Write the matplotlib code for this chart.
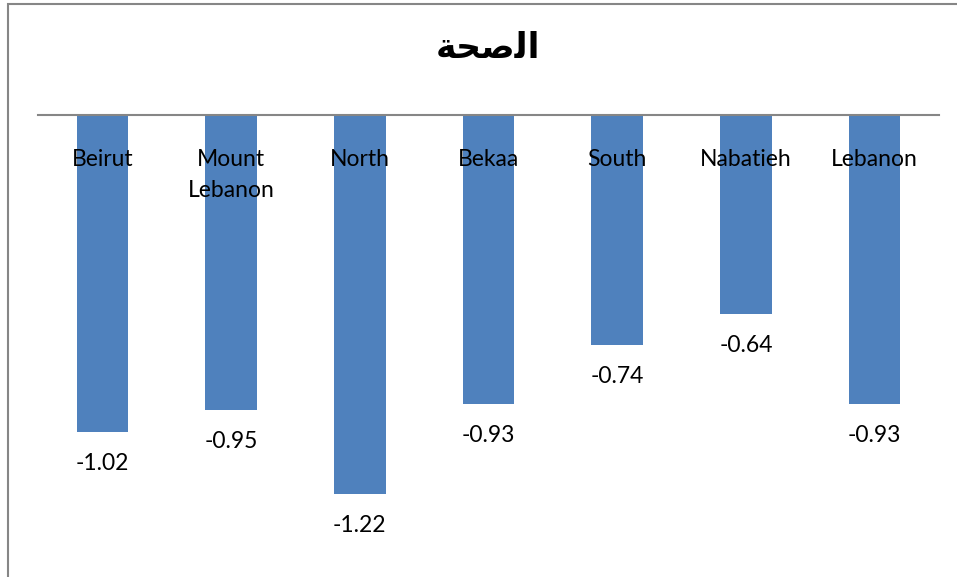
import matplotlib
matplotlib.use("Agg")
import matplotlib.pyplot as plt
from matplotlib.patches import Rectangle

categories = ["Beirut", "Mount\nLebanon", "North", "Bekaa", "South", "Nabatieh", "Lebanon"]
values = [-1.02, -0.95, -1.22, -0.93, -0.74, -0.64, -0.93]
value_labels = ["-1.02", "-0.95", "-1.22", "-0.93", "-0.74", "-0.64", "-0.93"]
# "الصحة" written with Arabic presentation forms in visual order (matplotlib has no Arabic shaping)
title = "\uFE94\uFEA4\uFEBB\uFEDF\uFE8D"

W, H = 957, 577
fig = plt.figure(figsize=(W / 100, H / 100), dpi=100)
fig.patch.set_facecolor("white")

# outer chart frame (partially cropped at right/bottom)
fig.patches.append(Rectangle((8 / W, -0.05), 1.2, 1 - 4 / H + 0.05, transform=fig.transFigure,
                             fill=False, edgecolor="#868686", linewidth=1.5))

left, right = 38 / W, 939 / W
top = 1 - 115 / H
bottom = 1 - 550 / H
ax = fig.add_axes([left, bottom, right - left, top - bottom])
ax.set_xlim(-0.5, len(categories) - 0.5)
ax.set_ylim(-1.4, 0)
x = list(range(len(categories)))
ax.bar(x, values, width=0.4, color="#4F81BD", zorder=1)
for s in ["left", "right", "bottom"]:
    ax.spines[s].set_visible(False)
ax.spines["top"].set_color("#868686")
ax.spines["top"].set_linewidth(1.5)
ax.spines["top"].set_zorder(3)
ax.set_xticks([])
ax.set_yticks([])
ax.patch.set_alpha(0)

font = "Lato"
fs = 16.5
for xi, c in zip(x, categories):
    ax.text(xi, -0.110, c, ha="center", va="top", fontsize=fs, family=font,
            linespacing=1.6, zorder=4)
for xi, v, lab in zip(x, values, value_labels):
    ax.annotate(lab, (xi, v), xytext=(0, -22.5), textcoords="offset points",
                ha="center", va="center", fontsize=fs, family=font)

fig.text(488 / W, 1 - 48 / H, title, ha="center", va="center", fontsize=25,
         fontweight="bold", family=["DejaVu Sans"])

fig.savefig("out.png", dpi=100, facecolor="white")
